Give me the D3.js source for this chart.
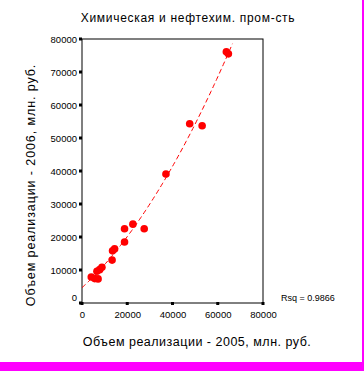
<!DOCTYPE html>
<html>
<head>
<meta charset="utf-8">
<script src="https://cdn.jsdelivr.net/npm/d3@7"></script>
<style>
  body { margin: 0; background: #fff; }
  text { font-family: "Liberation Sans", Arial, sans-serif; }
</style>
</head>
<body>
<div id="chart-container"></div>
<script>
// data
const sales2005 = [63800, 64700, 47600, 53100, 37100, 22500, 18800, 27500, 18800, 14400, 13500, 13300, 8800, 7800, 6600, 4100, 5600, 7100]
const sales2006 = [76100, 75500, 54300, 53700, 39100, 23900, 22500, 22500, 18500, 16400, 15800, 13000, 10800, 10100, 9600, 7900, 7400, 7300]
const xTicks = [0, 20000, 40000, 60000, 80000]
const yTicks = [0, 10000, 20000, 30000, 40000, 50000, 60000, 70000, 80000]
const fitRange = [0, 66600]

const title = 'Химическая и нефтехим. пром-сть'
const xTitle = 'Объем реализации - 2005, млн. руб.'
const yTitle = 'Объем реализации - 2006, млн. руб.'
const rsqLabel = 'Rsq = 0.9866'

const width = 364
const height = 371
const plot = {left: 82, right: 263, top: 39, bottom: 303}

const svg = d3.select('#chart-container')
  .append('svg')
  .attr('width', width)
  .attr('height', height)

// magenta border bits at the bottom and right
svg.append('rect').attr('x', 0).attr('y', 362).attr('width', width).attr('height', 9).attr('fill', '#ff00ff')
svg.append('rect').attr('x', 362).attr('y', 0).attr('width', 2).attr('height', 371).attr('fill', '#ff00ff')

const x = d3.scaleLinear().domain([0, 80000]).range([plot.left, plot.right])
const y = d3.scaleLinear().domain([0, 80000]).range([plot.bottom, plot.top])

// frame
svg.append('rect')
  .attr('x', plot.left)
  .attr('y', plot.top)
  .attr('width', plot.right - plot.left)
  .attr('height', plot.bottom - plot.top)
  .attr('fill', 'none')
  .attr('stroke', '#000')
  .attr('stroke-width', 1)

// axes (labels only, ticks drawn as little squares)
const xAxis = svg.append('g')
  .attr('transform', `translate(0, ${plot.bottom})`)
  .call(d3.axisBottom(x).tickValues(xTicks).tickSize(0).tickPadding(8).tickFormat(d3.format('d')))
xAxis.select('.domain').remove()
xAxis.selectAll('text').attr('font-size', 9.5).attr('fill', '#000')

const yAxis = svg.append('g')
  .attr('transform', `translate(${plot.left}, 0)`)
  .call(d3.axisLeft(y).tickValues(yTicks).tickSize(0).tickPadding(5).tickFormat(d3.format('d')))
yAxis.select('.domain').remove()
yAxis.selectAll('text')
  .attr('font-size', 9.5)
  .attr('fill', '#000')
  .attr('dy', d => d === 0 ? '-0.3em' : '0.32em')

svg.selectAll('.ytick-sq')
  .data(yTicks)
  .enter()
  .append('rect')
  .attr('x', plot.left - 3)
  .attr('y', d => y(d) - 1.5)
  .attr('width', 3)
  .attr('height', 3)
  .attr('fill', '#000')

svg.selectAll('.xtick-sq')
  .data(xTicks)
  .enter()
  .append('rect')
  .attr('x', d => x(d) - 1.5)
  .attr('y', plot.bottom - 1)
  .attr('width', 3)
  .attr('height', 3)
  .attr('fill', '#000')

// quadratic least squares fit
function quadFit (xs, ys) {
  const n = xs.length
  let s = [0, 0, 0, 0, 0]
  let t = [0, 0, 0]
  for (let i = 0; i < n; i++) {
    const a = xs[i] / 10000
    for (let k = 0; k < 5; k++) s[k] += Math.pow(a, k)
    for (let k = 0; k < 3; k++) t[k] += ys[i] * Math.pow(a, k)
  }
  const m = [[s[0], s[1], s[2], t[0]], [s[1], s[2], s[3], t[1]], [s[2], s[3], s[4], t[2]]]
  for (let i = 0; i < 3; i++) {
    for (let j = i + 1; j < 3; j++) {
      const f = m[j][i] / m[i][i]
      for (let k = i; k < 4; k++) m[j][k] -= f * m[i][k]
    }
  }
  const c = [0, 0, 0]
  for (let i = 2; i >= 0; i--) {
    let v = m[i][3]
    for (let k = i + 1; k < 3; k++) v -= m[i][k] * c[k]
    c[i] = v / m[i][i]
  }
  return v => { const a = v / 10000; return c[0] + c[1] * a + c[2] * a * a }
}

const fit = quadFit(sales2005, sales2006)
const fitPts = d3.range(fitRange[0], fitRange[1] + 1, 500).map(v => [v, fit(v)])

svg.append('path')
  .datum(fitPts)
  .attr('fill', 'none')
  .attr('stroke', '#ff0000')
  .attr('stroke-width', 1)
  .attr('stroke-dasharray', '5,3')
  .attr('d', d3.line().x(d => x(d[0])).y(d => y(d[1])))

// points
svg.selectAll('circle')
  .data(sales2005)
  .enter()
  .append('circle')
  .attr('cx', d => x(d))
  .attr('cy', (d, i) => y(sales2006[i]))
  .attr('r', 3.8)
  .attr('fill', '#ff0000')

// texts
svg.append('text')
  .attr('x', 188)
  .attr('y', 22)
  .attr('text-anchor', 'middle')
  .attr('font-size', 12)
  .attr('letter-spacing', 0.7)
  .text(title)

svg.append('text')
  .attr('x', 197)
  .attr('y', 346)
  .attr('text-anchor', 'middle')
  .attr('font-size', 12.5)
  .attr('letter-spacing', 0.5)
  .text(xTitle)

svg.append('text')
  .attr('transform', 'translate(35, 185) rotate(-90)')
  .attr('text-anchor', 'middle')
  .attr('font-size', 12.5)
  .attr('letter-spacing', 0.9)
  .text(yTitle)

svg.append('text')
  .attr('x', 281)
  .attr('y', 301)
  .attr('font-size', 9)
  .text(rsqLabel)
</script>
</body>
</html>
